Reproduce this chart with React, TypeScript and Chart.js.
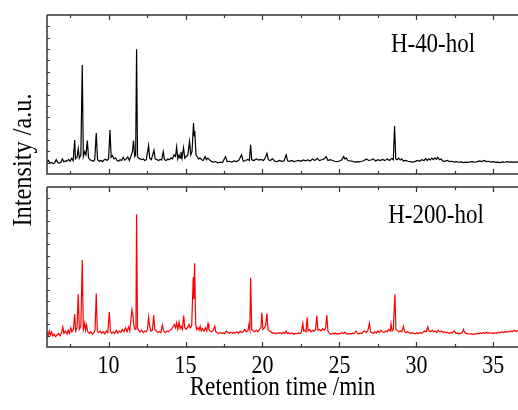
import React, { useEffect, useRef } from "react";
import { Chart, registerables } from "chart.js";

Chart.register(...registerables);

// Retention time (min), intensity (a.u., 0-100 panel scale)
const h40Data: [number, number][] = [
  [6.0, 7.5], [6.1, 8.5], [6.2, 6.8], [6.3, 7.2], [6.4, 6.5], [6.5, 7.0], [6.6, 9.0], [6.7, 7.2], [6.8, 6.9], [6.9, 7.4],
  [7.0, 9.5], [7.1, 7.6], [7.2, 8.3], [7.3, 8.1], [7.4, 9.2], [7.5, 8.0], [7.6, 9.8], [7.7, 8.4], [7.8, 21.4], [7.85, 9.5],
  [7.95, 10.5], [8.03, 16], [8.1, 10], [8.2, 12], [8.29, 68.5], [8.36, 11], [8.45, 14], [8.53, 12], [8.62, 21], [8.7, 10],
  [8.8, 9], [8.9, 8.5], [9.0, 8.0], [9.1, 9.0], [9.2, 25.8], [9.28, 9.2], [9.4, 8.0], [9.5, 8.5], [9.6, 7.8], [9.7, 8.8],
  [9.8, 9.3], [9.9, 8.5], [10.0, 9.5], [10.09, 27.7], [10.17, 10.5], [10.25, 11.5], [10.35, 9.5], [10.45, 10.2], [10.55, 8.5],
  [10.65, 8.0], [10.75, 9.0], [10.85, 8.5], [10.95, 10.5], [11.05, 8.8], [11.15, 9.5], [11.25, 10.8], [11.35, 8.5], [11.45, 11],
  [11.55, 14], [11.62, 21], [11.7, 11], [11.76, 12], [11.82, 78.4], [11.88, 11], [11.95, 10], [12.05, 9.5], [12.15, 9.0],
  [12.25, 9.5], [12.35, 8.5], [12.45, 9.0], [12.6, 18], [12.67, 10], [12.78, 9.0], [12.95, 15], [13.03, 9.5], [13.15, 9.0],
  [13.25, 8.5], [13.35, 9.2], [13.45, 8.8], [13.55, 14], [13.63, 9.0], [13.75, 8.5], [13.85, 9.5], [13.95, 9.0], [14.05, 10],
  [14.15, 9.5], [14.25, 12], [14.35, 11], [14.42, 17], [14.5, 9.5], [14.58, 12], [14.65, 10], [14.7, 14], [14.77, 10],
  [14.87, 16.5], [14.95, 10], [15.05, 11], [15.15, 12], [15.26, 20.5], [15.34, 12], [15.42, 14], [15.52, 32], [15.56, 24],
  [15.6, 27], [15.68, 12], [15.75, 11], [15.85, 9.5], [15.95, 10], [16.05, 9.0], [16.15, 8.5], [16.27, 11], [16.35, 9.0],
  [16.45, 10], [16.55, 9.0], [16.65, 8.0], [16.8, 7.5], [16.95, 7.8], [17.1, 7.0], [17.25, 7.5], [17.4, 7.2], [17.6, 11],
  [17.7, 7.8], [17.85, 8.0], [18.0, 7.5], [18.15, 8.2], [18.3, 7.8], [18.45, 8.5], [18.64, 12], [18.75, 8.0], [18.9, 8.5],
  [19.05, 9.2], [19.15, 8.5], [19.23, 18.3], [19.3, 9.0], [19.45, 8.5], [19.6, 9.5], [19.75, 8.8], [19.9, 9.2], [20.05, 8.5],
  [20.15, 9.5], [20.29, 13], [20.38, 9.0], [20.5, 8.5], [20.65, 9.5], [20.8, 8.0], [20.95, 7.8], [21.1, 8.5], [21.25, 8.0],
  [21.4, 8.2], [21.54, 12], [21.63, 8.3], [21.75, 8.0], [21.9, 8.5], [22.05, 7.8], [22.2, 8.2], [22.35, 8.6], [22.5, 8.0],
  [22.65, 8.8], [22.8, 8.3], [22.95, 8.8], [23.1, 8.2], [23.25, 9.5], [23.4, 8.5], [23.55, 9.8], [23.7, 8.4], [23.85, 9.0],
  [24.0, 9.5], [24.14, 11], [24.25, 8.5], [24.4, 9.0], [24.55, 8.5], [24.7, 8.0], [24.85, 7.8], [25.0, 8.2], [25.15, 9.0],
  [25.27, 11], [25.35, 9.5], [25.45, 10], [25.55, 8.5], [25.7, 8.2], [25.85, 8.0], [26.0, 7.5], [26.15, 7.8], [26.3, 7.6],
  [26.45, 8.0], [26.6, 8.5], [26.75, 9.5], [26.9, 8.5], [27.05, 8.8], [27.2, 9.5], [27.35, 8.2], [27.5, 9.0], [27.65, 8.5],
  [27.8, 9.2], [27.95, 8.4], [28.1, 9.5], [28.25, 8.5], [28.4, 9.8], [28.5, 9.0], [28.58, 30.2], [28.66, 9.5], [28.75, 9.0],
  [28.85, 10], [28.95, 8.8], [29.05, 9.5], [29.15, 8.2], [29.3, 8.5], [29.45, 8.0], [29.6, 7.8], [29.75, 7.5], [29.9, 7.8],
  [30.05, 8.5], [30.2, 8.0], [30.35, 9.0], [30.5, 8.5], [30.6, 9.8], [30.7, 8.5], [30.8, 9.5], [30.9, 8.8], [31.0, 10],
  [31.1, 9.0], [31.2, 10.2], [31.3, 9.2], [31.39, 10.5], [31.5, 9.0], [31.6, 9.5], [31.7, 8.2], [31.85, 8.0], [32.0, 8.5],
  [32.15, 7.8], [32.3, 8.0], [32.45, 7.5], [32.6, 7.8], [32.75, 7.4], [32.9, 7.6], [33.05, 7.2], [33.2, 7.5], [33.35, 7.3],
  [33.5, 7.6], [33.65, 7.8], [33.8, 7.4], [33.95, 7.8], [34.1, 8.2], [34.25, 7.8], [34.4, 8.5], [34.55, 7.8], [34.7, 8.0],
  [34.85, 7.5], [35.0, 7.8], [35.15, 7.3], [35.3, 7.5], [35.45, 7.2], [35.6, 7.6], [35.75, 7.4], [35.9, 7.8], [36.05, 7.5],
  [36.2, 7.6], [36.35, 7.3], [36.5, 7.6], [36.6, 7.5],
];

const h200Data: [number, number][] = [
  [6.0, 9.0], [6.08, 7.2], [6.15, 10], [6.22, 7.5], [6.3, 9.5], [6.38, 6.8], [6.46, 8.0], [6.55, 6.5], [6.65, 7.5], [6.75, 8.5],
  [6.85, 7.0], [6.95, 9.0], [7.03, 12.5], [7.1, 8.5], [7.2, 10], [7.3, 8.0], [7.38, 10.5], [7.46, 8.5], [7.55, 12], [7.62, 9.5],
  [7.72, 11], [7.8, 20.6], [7.86, 10], [7.95, 12], [8.03, 33], [8.1, 11], [8.2, 13], [8.29, 54.4], [8.36, 11], [8.45, 15],
  [8.5, 10.5], [8.57, 13.7], [8.65, 9.5], [8.75, 8.5], [8.85, 9.5], [8.95, 8.0], [9.05, 9.0], [9.12, 10.5], [9.2, 33.5],
  [9.27, 10], [9.35, 9.0], [9.45, 10], [9.55, 8.5], [9.65, 9.5], [9.75, 8.2], [9.85, 10], [9.95, 9.0], [10.05, 21.9],
  [10.12, 10], [10.2, 8.5], [10.3, 9.5], [10.4, 8.5], [10.5, 10.5], [10.6, 8.8], [10.7, 10], [10.8, 9.2], [10.9, 11],
  [11.0, 9.5], [11.1, 12], [11.2, 9.5], [11.3, 12.5], [11.38, 10], [11.45, 17], [11.52, 23.5], [11.58, 20], [11.65, 13],
  [11.72, 11], [11.78, 15], [11.82, 83], [11.88, 12], [11.95, 10.5], [12.05, 9.5], [12.15, 10.5], [12.25, 9.0], [12.35, 10],
  [12.45, 9.5], [12.53, 11], [12.6, 18.7], [12.67, 13], [12.75, 10], [12.85, 10.5], [12.93, 19.8], [13.0, 11], [13.1, 10],
  [13.2, 9.0], [13.3, 9.5], [13.4, 9.0], [13.5, 13.7], [13.58, 10], [13.68, 9.0], [13.78, 10], [13.88, 9.5], [13.98, 10.5],
  [14.08, 11], [14.18, 12.5], [14.28, 14], [14.35, 12], [14.42, 15], [14.5, 11], [14.58, 15.5], [14.65, 11.5], [14.72, 13],
  [14.8, 11], [14.88, 19.6], [14.95, 12], [15.05, 11], [15.15, 12.5], [15.23, 14], [15.3, 12], [15.4, 13], [15.5, 43.5],
  [15.54, 30], [15.59, 52.3], [15.66, 14], [15.73, 11], [15.8, 12], [15.88, 10.5], [15.95, 13], [16.02, 10], [16.1, 11.5],
  [16.2, 10], [16.3, 12], [16.38, 10], [16.46, 14.5], [16.52, 11], [16.6, 10], [16.7, 9.5], [16.8, 10.5], [16.9, 13],
  [16.97, 9.5], [17.05, 9.0], [17.15, 8.5], [17.25, 9.0], [17.35, 8.5], [17.45, 8.8], [17.55, 8.3], [17.65, 10], [17.75, 9.0],
  [17.85, 8.5], [17.95, 9.2], [18.05, 8.5], [18.15, 9.0], [18.25, 8.8], [18.35, 9.5], [18.45, 8.5], [18.55, 10], [18.65, 9.0],
  [18.75, 9.5], [18.85, 11], [18.95, 9.5], [19.05, 10], [19.12, 14], [19.18, 11], [19.23, 43.3], [19.3, 11], [19.4, 10],
  [19.5, 9.5], [19.6, 10.5], [19.7, 9.5], [19.8, 11], [19.9, 12], [19.96, 21.5], [20.03, 11], [20.12, 12], [20.2, 13],
  [20.29, 21], [20.36, 11], [20.45, 10], [20.55, 9.5], [20.65, 8.5], [20.75, 9.0], [20.85, 8.2], [20.95, 8.8], [21.05, 8.5],
  [21.15, 9.0], [21.25, 8.3], [21.35, 9.2], [21.45, 8.5], [21.54, 10], [21.62, 8.5], [21.72, 9.0], [21.82, 8.2], [21.92, 8.8],
  [22.02, 8.0], [22.12, 8.5], [22.22, 8.3], [22.32, 8.8], [22.42, 8.4], [22.52, 9.0], [22.62, 14.8], [22.68, 10], [22.76, 10.5],
  [22.83, 9.5], [22.9, 18.5], [22.96, 10], [23.05, 11], [23.15, 9.5], [23.25, 10.5], [23.35, 9.8], [23.45, 11], [23.53, 19.6],
  [23.6, 10.5], [23.7, 11], [23.8, 10], [23.9, 11.5], [24.0, 10.5], [24.1, 12], [24.18, 20], [24.25, 10], [24.35, 8.5],
  [24.45, 8.0], [24.55, 8.5], [24.65, 8.2], [24.75, 8.8], [24.85, 8.0], [24.95, 8.5], [25.05, 8.2], [25.15, 9.0], [25.25, 8.4],
  [25.35, 9.2], [25.45, 8.5], [25.55, 8.0], [25.65, 8.5], [25.75, 8.2], [25.85, 8.6], [25.95, 8.4], [26.08, 10], [26.16, 8.5],
  [26.25, 8.2], [26.35, 8.8], [26.45, 8.4], [26.55, 9.5], [26.65, 10], [26.75, 9.0], [26.85, 10.5], [26.95, 14.8], [27.02, 9.5],
  [27.1, 9.0], [27.2, 8.5], [27.3, 9.5], [27.4, 8.8], [27.5, 10], [27.6, 9.0], [27.7, 10.5], [27.8, 9.5], [27.9, 9.0],
  [28.0, 10], [28.1, 9.5], [28.2, 11], [28.3, 10], [28.35, 14.5], [28.42, 10], [28.5, 11], [28.6, 33], [28.67, 11],
  [28.75, 10.5], [28.85, 9.5], [28.95, 10], [29.05, 9.5], [29.16, 13], [29.23, 9.5], [29.33, 9.0], [29.43, 9.5], [29.53, 8.8],
  [29.63, 8.5], [29.73, 9.0], [29.83, 8.6], [29.93, 8.2], [30.03, 8.8], [30.13, 8.4], [30.23, 9.0], [30.33, 8.5], [30.43, 9.2],
  [30.53, 10], [30.63, 9.5], [30.74, 12.5], [30.82, 10], [30.92, 9.5], [31.02, 10.5], [31.12, 9.5], [31.22, 10], [31.32, 9.0],
  [31.42, 10.5], [31.52, 9.5], [31.62, 10], [31.72, 9.0], [31.82, 9.5], [31.92, 8.8], [32.02, 9.2], [32.12, 8.5], [32.22, 9.0],
  [32.32, 8.8], [32.47, 10], [32.56, 8.5], [32.66, 8.8], [32.76, 8.2], [32.86, 8.5], [32.96, 8.8], [33.06, 11], [33.14, 9.0],
  [33.24, 8.5], [33.34, 8.2], [33.44, 8.0], [33.54, 8.4], [33.64, 7.8], [33.74, 8.2], [33.84, 8.0], [33.94, 8.5], [34.04, 8.2],
  [34.14, 8.8], [34.24, 8.4], [34.34, 9.0], [34.44, 8.6], [34.54, 9.2], [34.64, 8.5], [34.74, 9.0], [34.84, 8.6], [34.94, 8.8],
  [35.04, 8.4], [35.14, 9.0], [35.24, 8.6], [35.34, 9.2], [35.44, 8.8], [35.54, 9.5], [35.64, 9.0], [35.74, 9.6], [35.84, 9.2],
  [35.94, 9.8], [36.04, 9.4], [36.14, 10], [36.24, 9.5], [36.34, 10.5], [36.44, 9.8], [36.54, 10.2], [36.6, 10],
];

const xMajorTicks = [10, 15, 20, 25, 30, 35];
const xMinorTicks = [7.5, 12.5, 17.5, 22.5, 27.5, 32.5];
const yTickCount = 14;
const panelLabels = ["H-40-hol", "H-200-hol"];
const xTitle = "Retention time /min";
const yTitle = "Intensity /a.u.";

const X_MIN = 6;
const X_MAX = 36.6;
const SERIF = '"Liberation Serif", "Times New Roman", serif';

function drawText(
  ctx: CanvasRenderingContext2D,
  text: string,
  x: number,
  y: number,
  size: number,
  sx: number,
  align: CanvasTextAlign,
  baseline: CanvasTextBaseline,
  rot = 0
) {
  ctx.save();
  ctx.translate(x, y);
  if (rot) ctx.rotate(rot);
  ctx.scale(sx, 1);
  ctx.font = `${size}px ${SERIF}`;
  ctx.fillStyle = "#000";
  ctx.textAlign = align;
  ctx.textBaseline = baseline;
  ctx.fillText(text, 0, 0);
  ctx.restore();
}

function makeFramePlugin(label: string, isBottom: boolean) {
  return {
    id: "frame" + (isBottom ? "B" : "T"),
    afterDraw(chart: any) {
      const ctx: CanvasRenderingContext2D = chart.ctx;
      const { left, right, top, bottom } = chart.chartArea;
      const xs = chart.scales.x;
      const ys = chart.scales.y;
      ctx.save();
      ctx.strokeStyle = "#333";
      ctx.lineWidth = 1.5;
      ctx.beginPath();
      ctx.moveTo(left, top);
      ctx.lineTo(right, top);
      ctx.moveTo(left, top);
      ctx.lineTo(left, bottom);
      ctx.lineTo(right, bottom);
      ctx.stroke();
      ctx.lineWidth = 1.2;
      ctx.beginPath();
      for (const v of xMajorTicks) {
        const px = Math.round(xs.getPixelForValue(v)) + 0.5;
        ctx.moveTo(px, bottom);
        ctx.lineTo(px, bottom - 5);
        ctx.moveTo(px, top);
        ctx.lineTo(px, top + 5);
      }
      for (const v of xMinorTicks) {
        const px = Math.round(xs.getPixelForValue(v)) + 0.5;
        ctx.moveTo(px, bottom);
        ctx.lineTo(px, bottom - 3);
        ctx.moveTo(px, top);
        ctx.lineTo(px, top + 3);
      }
      for (let i = 1; i < yTickCount; i++) {
        const py = Math.round(ys.getPixelForValue((i * 100) / yTickCount)) + 0.5;
        ctx.moveTo(left, py);
        ctx.lineTo(left + 3, py);
      }
      ctx.stroke();
      ctx.restore();

      drawText(ctx, label, isBottom ? 436 : 433, top + (isBottom ? 36 : 37), 28, 0.82, "center", "alphabetic");

      if (isBottom) {
        for (const v of xMajorTicks) {
          drawText(ctx, String(v), xs.getPixelForValue(v), bottom + 19, 25, 0.88, "center", "middle");
        }
        drawText(ctx, xTitle, (left + right) / 2, 395, 27, 0.86, "center", "alphabetic");
      } else {
        drawText(ctx, yTitle, 31, 160, 27, 0.9, "center", "alphabetic", -Math.PI / 2);
      }
    },
  };
}

function makeChart(
  canvas: HTMLCanvasElement,
  data: [number, number][],
  color: string,
  padding: { left: number; right: number; top: number; bottom: number },
  label: string,
  isBottom: boolean
) {
  return new Chart(canvas, {
    type: "line",
    data: {
      datasets: [
        {
          data: data.map(([x, y]) => ({ x, y })),
          borderColor: color,
          borderWidth: 1.2,
          pointRadius: 0,
          tension: 0,
          fill: false,
        },
      ],
    },
    options: {
      animation: false,
      responsive: false,
      devicePixelRatio: 1,
      layout: { padding },
      plugins: { legend: { display: false }, tooltip: { enabled: false } },
      scales: {
        x: { type: "linear", min: X_MIN, max: X_MAX, display: false },
        y: { min: 0, max: 100, display: false },
      },
    },
    plugins: [makeFramePlugin(label, isBottom)],
  } as any);
}

export default function App() {
  const topRef = useRef<HTMLCanvasElement>(null);
  const botRef = useRef<HTMLCanvasElement>(null);
  useEffect(() => {
    const c1 = makeChart(topRef.current!, h40Data, "#000000", { left: 47, right: 0, top: 15, bottom: 236 }, panelLabels[0], false);
    const c2 = makeChart(botRef.current!, h200Data, "#ff0000", { left: 47, right: 0, top: 187, bottom: 63 }, panelLabels[1], true);
    return () => {
      c1.destroy();
      c2.destroy();
    };
  }, []);
  const style: React.CSSProperties = { position: "absolute", left: 0, top: 0, width: 518, height: 410 };
  return (
    <div style={{ position: "fixed", left: 0, top: 0, width: 518, height: 410, background: "#fff" }}>
      <canvas ref={topRef} width={518} height={410} style={style} />
      <canvas ref={botRef} width={518} height={410} style={style} />
    </div>
  );
}
